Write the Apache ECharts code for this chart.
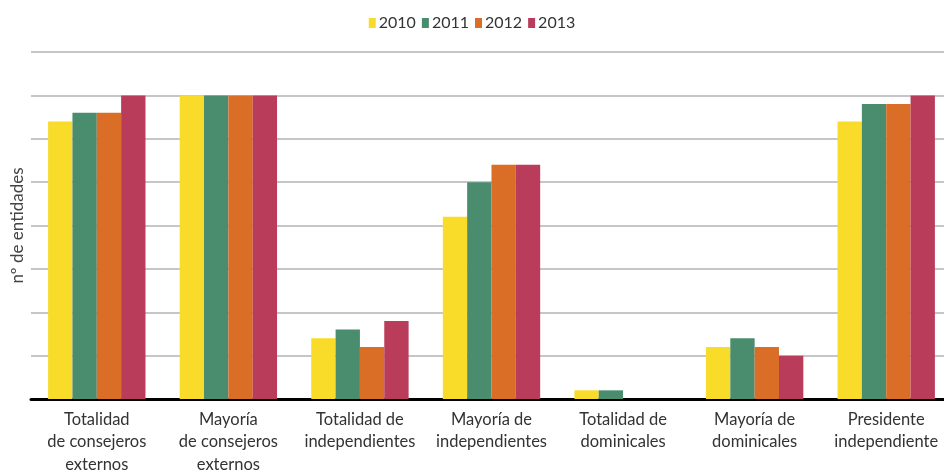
<!DOCTYPE html>
<html>
<head>
<meta charset="utf-8">
<script src="https://cdn.jsdelivr.net/npm/echarts@6/dist/echarts.min.js"></script>
<style>html,body{margin:0;padding:0;background:#fff;}#c{width:944px;height:471px;}</style>
</head>
<body>
<div id="c"></div>
<script>
const categories = ["Totalidad\nde consejeros\nexternos", "Mayoría\nde consejeros\nexternos", "Totalidad de\nindependientes", "Mayoría de\nindependientes", "Totalidad de\ndominicales", "Mayoría de\ndominicales", "Presidente\nindependiente"];
const years = ["2010", "2011", "2012", "2013"];
const v2010 = [32, 35, 7, 21, 1, 6, 32];
const v2011 = [33, 35, 8, 25, 1, 7, 34];
const v2012 = [33, 35, 6, 27, 0, 6, 34];
const v2013 = [35, 35, 9, 27, 0, 5, 35];
const colors = ["#F9DC29", "#4A8C6E", "#DA6E27", "#BA3C5B"];
const seriesData = [v2010, v2011, v2012, v2013];
const font = "Lato, 'Liberation Sans', sans-serif";

const chart = echarts.init(document.getElementById('c'));
chart.setOption({
  animation: false,
  color: colors,
  legend: {
    top: 10, left: 'center',
    itemWidth: 7, itemHeight: 10, itemGap: 6,
    icon: 'rect',
    textStyle: { fontFamily: font, fontSize: 16, color: '#333', padding: [0,0,0,-2] },
    data: years
  },
  grid: { left: 31, right: -8, top: 52, bottom: 72, containLabel: false, outerBoundsMode: 'none' },
  xAxis: {
    type: 'category', data: categories,
    axisLine: { lineStyle: { color: '#000', width: 3 } },
    axisTick: { show: false },
    axisLabel: { fontFamily: font, fontSize: 16.5, color: '#333', lineHeight: 22.5, margin: 9, interval: 0 }
  },
  yAxis: {
    type: 'value', min: 0, max: 40, interval: 5,
    name: 'nº de entidades', nameLocation: 'middle', nameGap: 5,
    nameTextStyle: { fontFamily: font, fontSize: 17, color: '#444' },
    axisLabel: { show: false }, axisTick: { show: false }, axisLine: { show: false },
    splitLine: { lineStyle: { color: '#c6c6c6', width: 2 } }
  },
  series: years.map((y, i) => ({
    name: y, type: 'bar', data: seriesData[i],
    barGap: '0%', barCategoryGap: '26%',
    itemStyle: { color: colors[i] }
  }))
});
</script>
</body>
</html>
